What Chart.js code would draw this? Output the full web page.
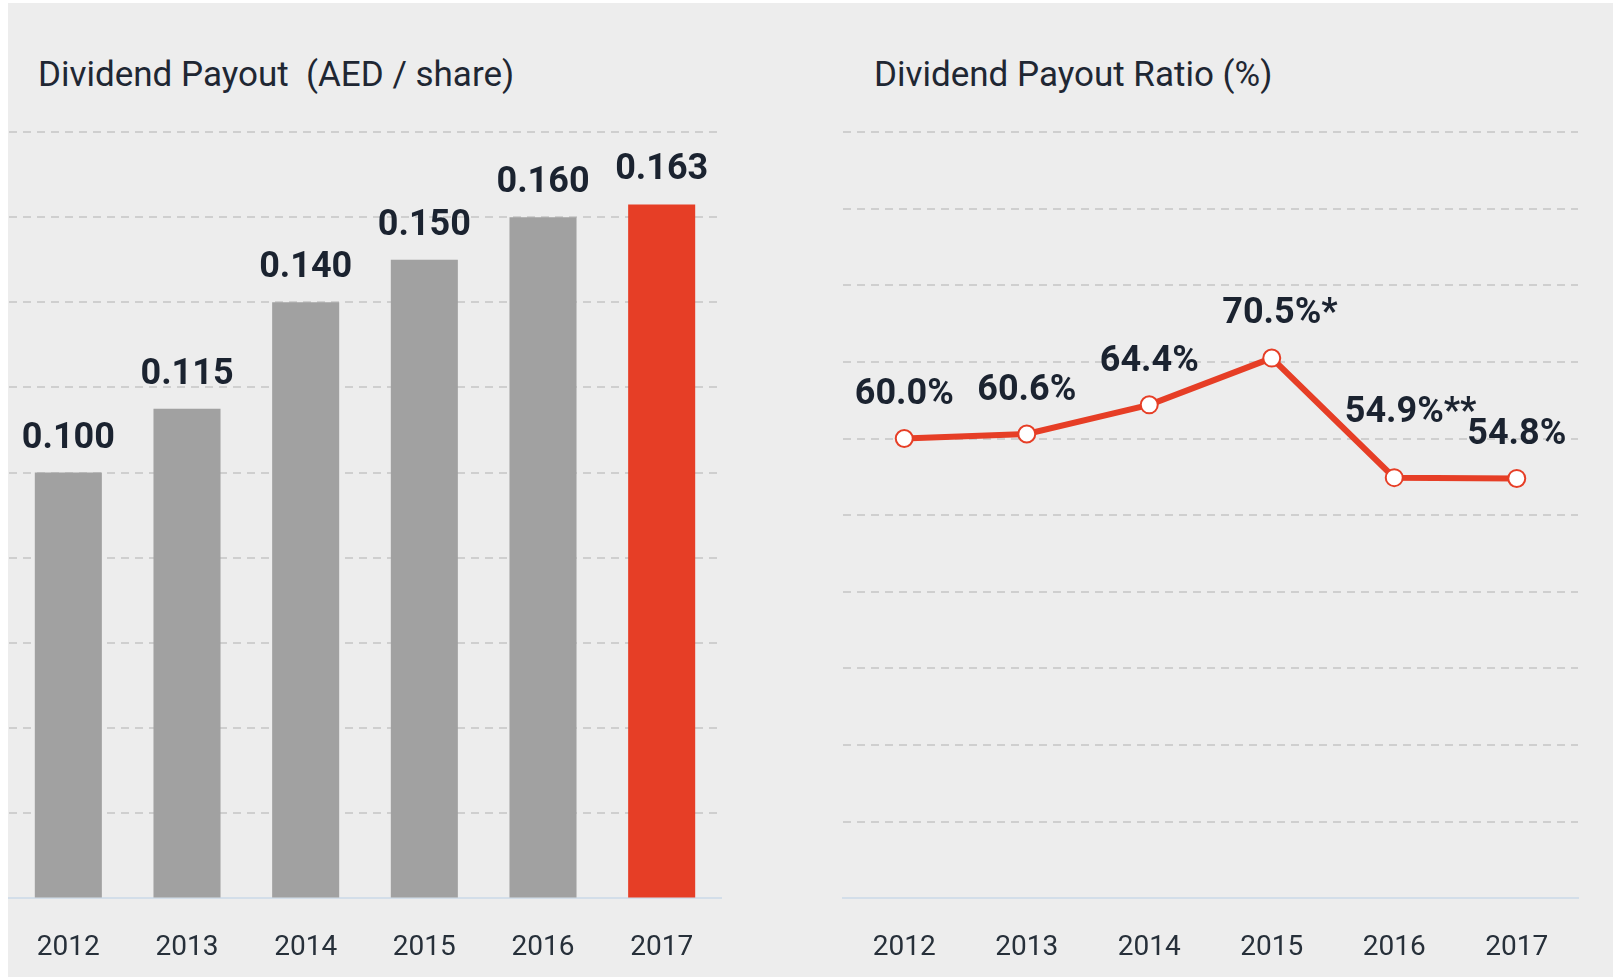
<!DOCTYPE html>
<html>
<head>
<meta charset="utf-8">
<script src="https://cdn.jsdelivr.net/npm/chart.js@4.4.1/dist/chart.umd.min.js"></script>
<style>
  html, body { margin: 0; padding: 0; background: #ffffff; }
  body { width: 1616px; height: 978px; position: relative; overflow: hidden; font-family: Roboto, "Noto Sans", sans-serif; }
  #panel { position: absolute; left: 8px; top: 3px; width: 1605px; height: 974px; background: #ededed; }
  .title { position: absolute; font-family: Roboto, sans-serif; font-size: 35px; line-height: 40px; color: #1f2733; white-space: pre; }
  #wrapL { position: absolute; left: 0; top: 0; width: 800px; height: 1015px; }
  #wrapR { position: absolute; left: 800px; top: 0; width: 816px; height: 1015px; }
</style>
</head>
<body>
<div id="panel"></div>
<div class="title" style="left:38px; top:55px;">Dividend Payout  (AED / share)</div>
<div class="title" style="left:874px; top:55px;">Dividend Payout Ratio (%)</div>
<div id="wrapL"><canvas id="cL"></canvas></div>
<div id="wrapR"><canvas id="cR"></canvas></div>
<script>
// ---- data ----
const years = ['2012', '2013', '2014', '2015', '2016', '2017'];
const dividendPerShare = [0.100, 0.115, 0.140, 0.150, 0.160, 0.163];
const payoutRatio = [60.0, 60.6, 64.4, 70.5, 54.9, 54.8];
const ratioNotes = ['', '', '', '*', '**', ''];

// ---- styles ----
const GREY = '#a1a1a1';
const RED = '#e63e26';
const INK = '#1b2330';
const GRID = '#cfcfcf';
const BASE = '#d3dee9';

const gridOpts = {
  color: (c) => (c.tick && c.tick.value === 0) ? 'rgba(0,0,0,0)' : GRID,
  lineWidth: 2,
  drawTicks: false
};

const labelPlugin = {
  id: 'valueLabels',
  afterDatasetsDraw(chart, args, opts) {
    const ctx = chart.ctx;
    const meta = chart.getDatasetMeta(0);
    const data = chart.data.datasets[0].data;
    ctx.save();
    ctx.font = 'bold 36px Roboto, sans-serif';
    ctx.fillStyle = INK;
    ctx.textBaseline = 'middle';
    meta.data.forEach((el, i) => {
      const main = opts.format(data[i]);
      const note = opts.notes ? opts.notes[i] : '';
      const w = ctx.measureText(main).width;
      const off = (opts.offsets && opts.offsets[i] != null) ? opts.offsets[i] : opts.offset;
      const y = el.y - off;
      ctx.textAlign = 'left';
      ctx.fillText(main + note, el.x - w / 2, y);
    });
    ctx.restore();
  }
};

new Chart(document.getElementById('cL'), {
  type: 'bar',
  data: {
    labels: years,
    datasets: [{
      data: dividendPerShare,
      backgroundColor: years.map((y, i) => i === years.length - 1 ? RED : GREY),
      borderWidth: 0,
      categoryPercentage: 1,
      barPercentage: 0.565
    }]
  },
  options: {
    responsive: true,
    maintainAspectRatio: false,
    animation: false,
    layout: { padding: { left: 9, right: 79, top: 132, bottom: 17 } },
    plugins: {
      legend: { display: false },
      tooltip: { enabled: false },
      valueLabels: { format: (v) => v.toFixed(3), offset: 34 }
    },
    scales: {
      x: {
        grid: { display: false, drawTicks: false },
        border: { display: true, color: BASE, width: 2 },
        ticks: { color: '#27303a', font: { family: 'Roboto', size: 28 }, padding: 33 }
      },
      y: {
        min: 0, max: 0.18,
        ticks: { display: false, stepSize: 0.02 },
        grid: gridOpts,
        border: { display: false, dash: [8, 6] }
      }
    }
  },
  plugins: [labelPlugin]
});

new Chart(document.getElementById('cR'), {
  type: 'line',
  data: {
    labels: years,
    datasets: [{
      data: payoutRatio,
      borderColor: RED,
      borderWidth: 6,
      pointRadius: 8.5,
      pointBackgroundColor: '#ffffff',
      pointBorderColor: RED,
      pointBorderWidth: 2,
      tension: 0,
      clip: false
    }]
  },
  options: {
    responsive: true,
    maintainAspectRatio: false,
    animation: false,
    layout: { padding: { left: 43, right: 38, top: 132, bottom: 17 } },
    plugins: {
      legend: { display: false },
      tooltip: { enabled: false },
      valueLabels: { format: (v) => v.toFixed(1) + '%', notes: ratioNotes, offset: 44, offsets: [44, 43, 43, 44, 65, 43] }
    },
    scales: {
      x: {
        offset: true,
        grid: { display: false, drawTicks: false },
        border: { display: true, color: BASE, width: 2 },
        ticks: { color: '#27303a', font: { family: 'Roboto', size: 28 }, padding: 33 }
      },
      y: {
        min: 0, max: 100,
        ticks: { display: false, stepSize: 10 },
        grid: gridOpts,
        border: { display: false, dash: [8, 6] }
      }
    }
  },
  plugins: [labelPlugin]
});
</script>
</body>
</html>
